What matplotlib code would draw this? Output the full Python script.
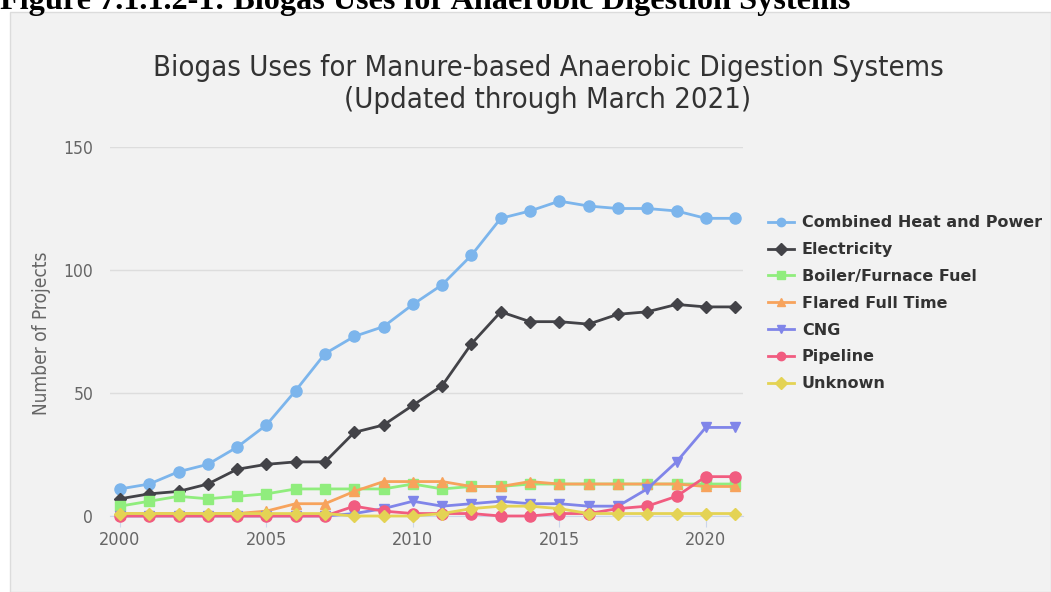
import matplotlib
matplotlib.use("Agg")
import matplotlib.pyplot as plt
from matplotlib.patches import Rectangle

years = list(range(2000, 2022))
chp = [11, 13, 18, 21, 28, 37, 51, 66, 73, 77, 86, 94, 106, 121, 124, 128, 126, 125, 125, 124, 121, 121]
electricity = [7, 9, 10, 13, 19, 21, 22, 22, 34, 37, 45, 53, 70, 83, 79, 79, 78, 82, 83, 86, 85, 85]
boiler = [4, 6, 8, 7, 8, 9, 11, 11, 11, 11, 13, 11, 12, 12, 13, 13, 13, 13, 13, 13, 13, 13]
flared = [1, 1, 1, 1, 1, 2, 5, 5, 10, 14, 14, 14, 12, 12, 14, 13, 13, 13, 13, 13, 12, 12]
cng = [0, 0, 0, 0, 0, 0, 0, 0, 1, 3, 6, 4, 5, 6, 5, 5, 4, 4, 11, 22, 36, 36]
pipeline = [0, 0, 0, 0, 0, 0, 0, 0, 4, 2, 1, 1, 1, 0, 0, 1, 1, 3, 4, 8, 16, 16]
unknown = [1, 1, 1, 1, 1, 1, 1, 1, 0, 0, 0, 1, 3, 4, 4, 3, 1, 1, 1, 1, 1, 1]

series_names = ["Combined Heat and Power", "Electricity", "Boiler/Furnace Fuel",
                "Flared Full Time", "CNG", "Pipeline", "Unknown"]
yticks = [0, 50, 100, 150]
xticks = [2000, 2005, 2010, 2015, 2020]

colors = ["#7cb5ec", "#434348", "#90ed7d", "#f7a35c", "#8085e9", "#f15c80", "#e4d354"]
markers = ["o", "D", "s", "^", "v", "o", "D"]
msizes = [8, 6, 7.5, 7.5, 7.5, 8, 6]

W, H = 1051, 592
fig = plt.figure(figsize=(W / 100, H / 100), dpi=100)
fig.patch.set_facecolor("white")

# grey panel
fig.patches.append(Rectangle((10 / W, 0), 1 - 10 / W, 1 - 12 / H, transform=fig.transFigure,
                             facecolor="#f2f2f2", edgecolor="#dcdcdc", linewidth=1, zorder=-5))

fig.text(0, 1 - 9 / H, "Figure 7.1.1.2-1: Biogas Uses for Anaerobic Digestion Systems",
         family="Liberation Serif", weight="bold", fontsize=23.2, va="baseline", ha="left", zorder=-4)

ax = fig.add_axes([110 / W, 1 - 516 / H, 633 / W, 369 / H])
ax.set_facecolor("none")
ax.set_xlim(1999.66, 2021.27)
ax.set_ylim(0, 150)

data = [chp, electricity, boiler, flared, cng, pipeline, unknown]
for name, vals, c, m, ms in zip(series_names, data, colors, markers, msizes):
    ax.plot(years, vals, color=c, marker=m, markersize=ms, linewidth=2, label=name,
            clip_on=False, zorder=3)

ax.set_yticks(yticks)
ax.set_xticks(xticks)
ax.grid(axis="y", color="#dddddd", linewidth=1)
ax.set_axisbelow(True)
for s in ["top", "right", "left"]:
    ax.spines[s].set_visible(False)
ax.spines["bottom"].set_color("#ccd6eb")
ax.tick_params(axis="y", length=0, pad=12, labelcolor="#666666", labelsize=12.5)
ax.tick_params(axis="x", length=8, color="#ccd6eb", pad=3, labelcolor="#666666", labelsize=13)
for lab in ax.get_xticklabels() + ax.get_yticklabels():
    lab.set_family("DejaVu Sans")
    lab.set_stretch("condensed")

fig.text(42 / W, 1 - 333 / H, "Number of Projects", rotation=90, ha="center", va="center",
         color="#666666", fontsize=13.7, family="DejaVu Sans", stretch="condensed")

fig.text(548 / W, 1 - 68 / H, "Biogas Uses for Manure-based Anaerobic Digestion Systems",
         ha="center", va="center", fontsize=21, color="#333333", family="DejaVu Sans",
         stretch="condensed")
fig.text(548 / W, 1 - 100 / H, "(Updated through March 2021)",
         ha="center", va="center", fontsize=21, color="#333333", family="DejaVu Sans",
         stretch="condensed")

leg = ax.legend(loc="upper left", bbox_to_anchor=(762 / W, 1 - 209 / H),
                bbox_transform=fig.transFigure, frameon=False, handlelength=1.6,
                handletextpad=0.5, labelspacing=0.74, borderaxespad=0,
                prop={"family": "DejaVu Sans", "weight": "bold", "size": 11.5})
for t in leg.get_texts():
    t.set_color("#333333")
for h in leg.legend_handles:
    h.set_markersize(6)

fig.savefig("out.png", dpi=100, facecolor=fig.get_facecolor())
